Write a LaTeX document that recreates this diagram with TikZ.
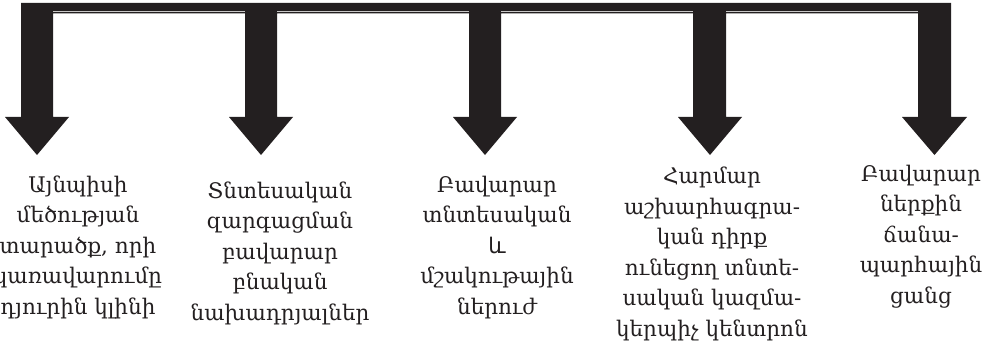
\documentclass[tikz,border=0pt]{standalone}
\usepackage{fontspec}
\setmainfont{DejaVu Serif}
\newfontfamily\armsans{DejaVu Sans}
\definecolor{ink}{HTML}{231F20}
\begin{document}
\begin{tikzpicture}[x=1pt,y=-1pt,
  txt/.style={anchor=base,inner sep=0pt,align=center,text=ink,
    font=\fontsize{21.5}{30.5}\selectfont},
  armfill/.style={fill=ink,draw=none}]
\useasboundingbox (0,0) rectangle (987,350);
\clip (0,0) rectangle (987,350);
% bar with five arrows
\fill[armfill] (21,3) -- (951,3)
  -- (951,117) -- (967,117) -- (934.5,155) -- (902,117) -- (918,117) -- (918,13.5)
  -- (726,13.5) -- (726,117) -- (742,117) -- (710,155) -- (678,117) -- (693,117) -- (693,13.5)
  -- (501,13.5) -- (501,117) -- (517,117) -- (485,155) -- (453,117) -- (469,117) -- (469,13.5)
  -- (277,13.5) -- (277,117) -- (293,117) -- (261,155) -- (229,117) -- (245,117) -- (245,13.5)
  -- (53,13.5) -- (53,117) -- (69,117) -- (37,155) -- (5,117) -- (21,117) -- cycle;
\draw[white!75!ink,line width=0.8pt] (53,11.2) -- (245,11.2) (277,11.2) -- (469,11.2)
  (501,11.2) -- (693,11.2) (726,11.2) -- (918,11.2);
% texts (anchor = baseline of the last line)
\node[txt] (b1) at (78,314) {Այնպիսի\\մեծության\\տարածք, որի\\կառավարումը\\դյուրին կլինի};
\node[txt] (b2) at (280,320) {Տնտեսական\\զարգացման\\բավարար\\բնական\\նախադրյալներ};
\node[txt] (b3) at (497,314) {Բավարար\\տնտեսական\\{\armsans և}\\մշակութային\\ներուժ};
\node[txt] (b4) at (712,336) {Հարմար\\աշխարհագրա-\\կան դիրք\\ունեցող տնտե-\\սական կազմա-\\կերպիչ կենտրոն};
\node[txt] (b5) at (921,303) {Բավարար\\ներքին\\ճանա-\\պարհային\\ցանց};
\end{tikzpicture}
\end{document}
